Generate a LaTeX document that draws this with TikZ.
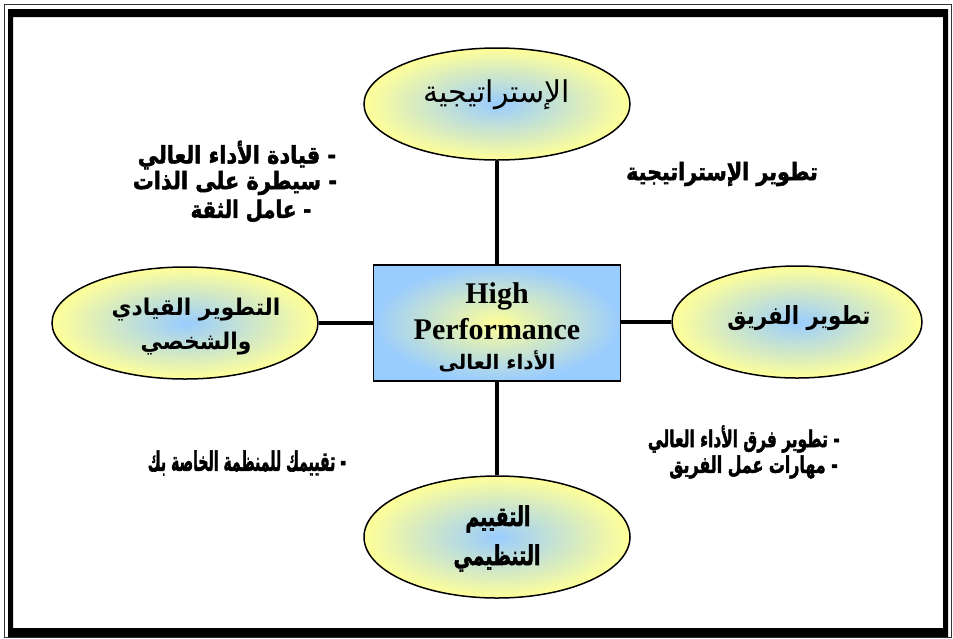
\documentclass[tikz,border=0pt]{standalone}
\usepackage{fontspec}
\usepackage{graphicx}
\usetikzlibrary{shapes.geometric}
\TeXXeTstate=1
\newfontfamily\arabicfont[Script=Arabic]{DejaVu Sans}
\newfontfamily\arabicheavy[Script=Arabic, BoldFeatures={FakeBold=2.2}]{DejaVu Sans}
\newfontfamily\latinserif{Liberation Serif}
\definecolor{pyellow}{HTML}{FFFF99}
\definecolor{pblue}{HTML}{99CCFF}
\newcommand{\EN}[1]{\latinserif\bfseries\fontsize{30}{34}\selectfont #1}
\tikzset{
  oval/.style={ellipse, draw=black, line width=1.5pt, inner color=pblue, outer color=pyellow,
    minimum width=266pt, minimum height=112pt, inner sep=0pt, align=center},
  centerbox/.style={rectangle, draw=black, line width=1.5pt, inner color=pyellow, outer color=pblue,
    minimum width=247pt, minimum height=116pt, inner sep=0pt, align=center},
  conn/.style={line width=4.5pt, black},
  note/.style={inner sep=0pt, align=center}
}
\begin{document}
\begin{tikzpicture}[x=1pt,y=-1pt]
\useasboundingbox (0,0) rectangle (953,638);
\fill[white] (0,0) rectangle (953,638);
% frame
\draw[line width=1pt, black!80] (4,4) rectangle (951,637);
\fill[black, even odd rule] (8,9) rectangle (948,637) (13,17) rectangle (943,628);
% nodes
\node[centerbox] (box) at (497,323) {};
\node[note] (boxt1) at (497,296) {\EN{High}};
\node[note] (boxt2) at (497,329) {\EN{Performance}};
\node[note] (boxt3) at (497,361) {\fontsize{20}{24}\selectfont\arabicfont\bfseries\beginR الأداء العالى\endR};
\node[oval] (top) at (497,104) {};
\node[note] (topt) at (497,95) {\fontsize{30}{34}\selectfont\arabicfont\beginR الإستراتيجية\endR};
\node[oval] (left) at (185,323) {};
\node[note] (leftt1) at (196,310) {\fontsize{23}{28}\selectfont\scalebox{0.95}[1]{\arabicfont\bfseries\beginR التطوير القيادي\endR}};
\node[note] (leftt2) at (196,344) {\fontsize{23}{28}\selectfont\scalebox{0.95}[1]{\arabicfont\bfseries\beginR والشخصي\endR}};
\node[oval, minimum width=250pt] (right) at (797,322) {};
\node[note] (rightt) at (799,318) {\fontsize{25}{30}\selectfont\scalebox{0.86}[1]{\arabicfont\bfseries\beginR تطوير الفريق\endR}};
\node[oval, minimum height=122pt] (bottom) at (497,537) {};
\node[note] (bottomt1) at (498,519) {\fontsize{27}{30}\selectfont\scalebox{0.7}[1]{\arabicheavy\bfseries\beginR التقييم\endR}};
\node[note] (bottomt2) at (497,558) {\fontsize{27}{30}\selectfont\scalebox{0.7}[1]{\arabicheavy\bfseries\beginR التنظيمي\endR}};
% connectors
\draw[conn] (top.south) -- (box.north);
\draw[conn] (box.south) -- (bottom.north);
\draw[conn] (left.east) -- (left.east -| box.west);
\draw[conn] (right.west -| box.east) -- (right.west);
% notes
\node[note] (n1) at (237,155) {\fontsize{24}{28}\selectfont\scalebox{0.87}[1]{\arabicheavy\bfseries\beginR - قيادة الأداء العالي\endR}};
\node[note] (n2) at (235,183) {\fontsize{24}{28}\selectfont\scalebox{0.87}[1]{\arabicheavy\bfseries\beginR - سيطرة على الذات\endR}};
\node[note] (n3) at (251,211) {\fontsize{24}{28}\selectfont\scalebox{0.82}[1]{\arabicheavy\bfseries\beginR - عامل الثقة\endR}};
\node[note] (n4) at (722,174) {\fontsize{24}{28}\selectfont\scalebox{0.86}[1]{\arabicheavy\bfseries\beginR تطوير الإستراتيجية\endR}};
\node[note, anchor=east] (n5) at (840,439) {\fontsize{23}{28}\selectfont\scalebox{0.67}[1]{\arabicheavy\bfseries\beginR - تطوير فرق الأداء العالي\endR}};
\node[note, anchor=east] (n6) at (838,467) {\fontsize{23}{28}\selectfont\scalebox{0.69}[1]{\arabicheavy\bfseries\beginR - مهارات عمل الفريق\endR}};
\node[note] (n7) at (247,463) {\fontsize{27}{30}\selectfont\scalebox{0.52}[1]{\arabicheavy\bfseries\beginR - تقييمك للمنظمة الخاصة بك\endR}};
\end{tikzpicture}
\end{document}
